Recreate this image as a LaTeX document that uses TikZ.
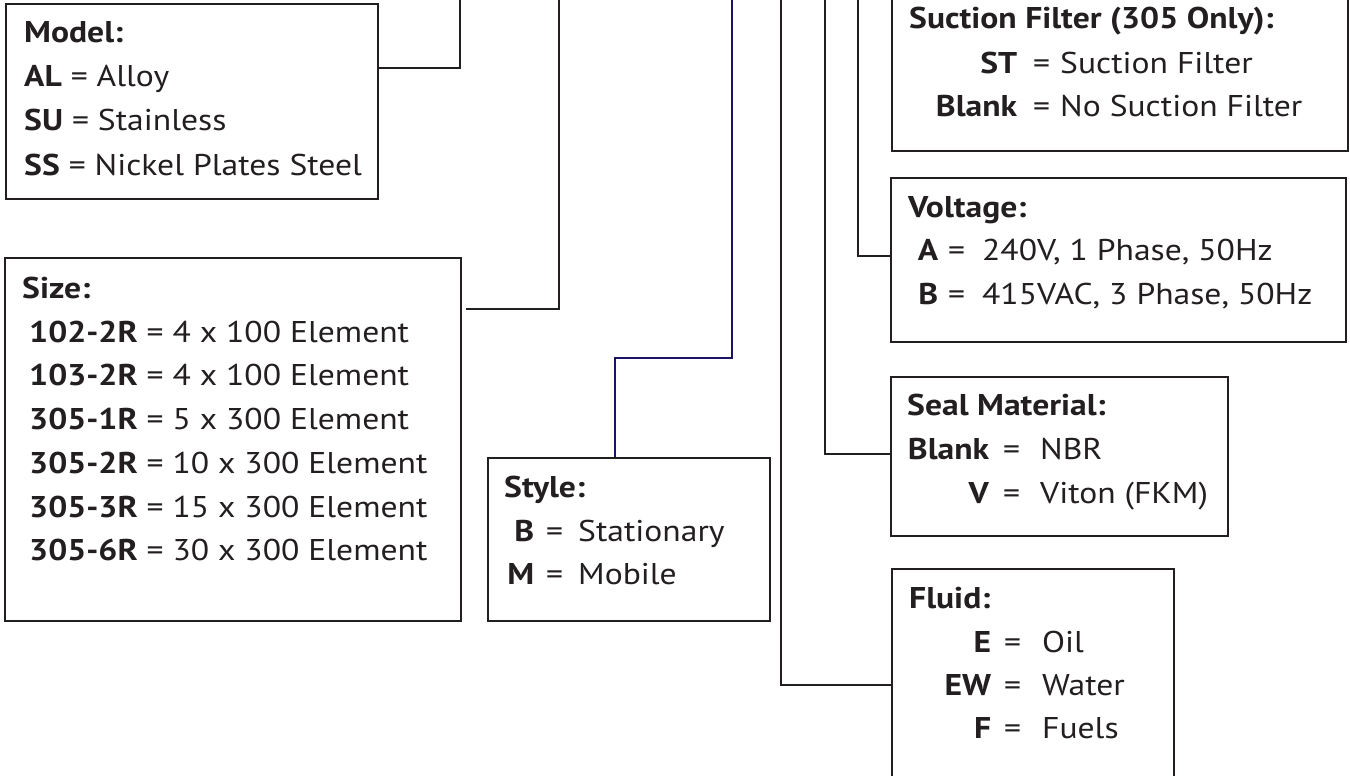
\documentclass[tikz,border=0pt]{standalone}
\usepackage{fontspec}
\setmainfont{PT Sans}[FakeStretch=1.12]
\definecolor{ink}{HTML}{231F20}
\definecolor{navy}{HTML}{1B1464}
\newcommand\kvl[5]{\makebox[#1][r]{\textbf{#3}}\makebox[#2][l]{\hspace{#4}=}#5}
\begin{document}
\begin{tikzpicture}[x=1pt,y=-1pt,
  box/.style={draw=ink, line width=2.4pt, inner sep=0pt, anchor=north west},
  conn/.style={draw=ink, line width=2.4pt},
  navyconn/.style={draw=navy, line width=2.2pt},
  txt/.style={inner sep=0pt, anchor=base west, text=ink, font=\fontsize{30}{36}\selectfont}]
\useasboundingbox (0,0) rectangle (1350,776);
\clip (0,0) rectangle (1350,776);
\fill[white] (0,0) rectangle (1350,776);
% boxes
\node[box, minimum width=372pt, minimum height=195pt] (model) at (5,3) {};
\node[box, minimum width=456pt, minimum height=363pt] (size) at (4,257) {};
\node[box, minimum width=282pt, minimum height=163pt] (style) at (487,457) {};
\node[box, minimum width=456pt, minimum height=170pt] (suction) at (891,-20) {};
\node[box, minimum width=455pt, minimum height=164pt] (voltage) at (890,177) {};
\node[box, minimum width=337pt, minimum height=159pt] (seal) at (890,376) {};
\node[box, minimum width=282pt, minimum height=240pt] (fluid) at (891,568) {};
% connectors
\coordinate (mtop) at (460,-5);  \coordinate (mbend) at (460,68);
\draw[conn] (mtop) -- (mbend) -- (mbend -| model.east);
\coordinate (sztop) at (559,-5); \coordinate (szbend) at (559,309);
\draw[conn] (sztop) -- (szbend) -- ([xshift=4pt]szbend -| size.east);
\coordinate (sttop) at (732,-5); \coordinate (stb1) at (732,358); \coordinate (stb2) at (615,358);
\draw[navyconn] (sttop) -- (stb1) -- (stb2) -- (stb2 |- style.north);
\coordinate (fltop) at (781,-5); \coordinate (flbend) at (781,685);
\draw[conn] (fltop) -- (flbend) -- (flbend -| fluid.west);
\coordinate (setop) at (825,-5); \coordinate (sebend) at (825,454);
\draw[conn] (setop) -- (sebend) -- (sebend -| seal.west);
\coordinate (vtop) at (858,-5); \coordinate (vbend) at (858,256);
\draw[conn] (vtop) -- (vbend) -- (vbend -| voltage.west);
% model text
\node[txt] (model-h) at (24,43) {\textbf{Model:}};
\node[txt] (model-1) at (24,87) {\textbf{AL} = Alloy};
\node[txt] (model-2) at (24,130) {\textbf{SU} = Stainless};
\node[txt] (model-3) at (24,175) {\textbf{SS} = Nickel Plates Steel};
% size text
\node[txt] (size-h) at (22,298) {\textbf{Size:}};
\node[txt] (size-1) at (29,342) {\textbf{102-2R} = 4 x 100 Element};
\node[txt] (size-2) at (29,385) {\textbf{103-2R} = 4 x 100 Element};
\node[txt] (size-3) at (29,429) {\textbf{305-1R} = 5 x 300 Element};
\node[txt] (size-4) at (29,473) {\textbf{305-2R} = 10 x 300 Element};
\node[txt] (size-5) at (29,517) {\textbf{305-3R} = 15 x 300 Element};
\node[txt] (size-6) at (29,560) {\textbf{305-6R} = 30 x 300 Element};
% style text
\node[txt] (style-h) at (504,497) {\textbf{Style:}};
\node[txt] (style-1) at (504,541) {\kvl{30pt}{44pt}{B}{12pt}{Stationary}};
\node[txt] (style-2) at (504,584) {\kvl{30pt}{44pt}{M}{12pt}{Mobile}};
% suction text
\node[txt] (suc-h) at (909,29) {\textbf{Suction Filter (305 Only):}};
\node[txt] (suc-1) at (939,74) {\kvl{78pt}{43pt}{ST}{16pt}{Suction Filter}};
\node[txt] (suc-2) at (939,117) {\kvl{78pt}{43pt}{Blank}{16pt}{No Suction Filter}};
% voltage text
\node[txt] (volt-h) at (908,217) {\textbf{Voltage:}};
\node[txt] (volt-1) at (919,260) {\kvl{19pt}{44pt}{A}{10pt}{240V, 1 Phase, 50Hz}};
\node[txt] (volt-2) at (919,304) {\kvl{19pt}{44pt}{B}{10pt}{415VAC, 3 Phase, 50Hz}};
% seal text
\node[txt] (seal-h) at (907,415) {\textbf{Seal Material:}};
\node[txt] (seal-1) at (909,459) {\kvl{80pt}{51pt}{Blank}{14pt}{NBR}};
\node[txt] (seal-2) at (909,503) {\kvl{80pt}{51pt}{V}{14pt}{Viton (FKM)}};
% fluid text
\node[txt] (fluid-h) at (909,608) {\textbf{Fluid:}};
\node[txt] (fluid-1) at (909,652) {\kvl{82pt}{51pt}{E}{13pt}{Oil}};
\node[txt] (fluid-2) at (909,695) {\kvl{82pt}{51pt}{EW}{13pt}{Water}};
\node[txt] (fluid-3) at (909,738) {\kvl{82pt}{51pt}{F}{13pt}{Fuels}};
\end{tikzpicture}
\end{document}
